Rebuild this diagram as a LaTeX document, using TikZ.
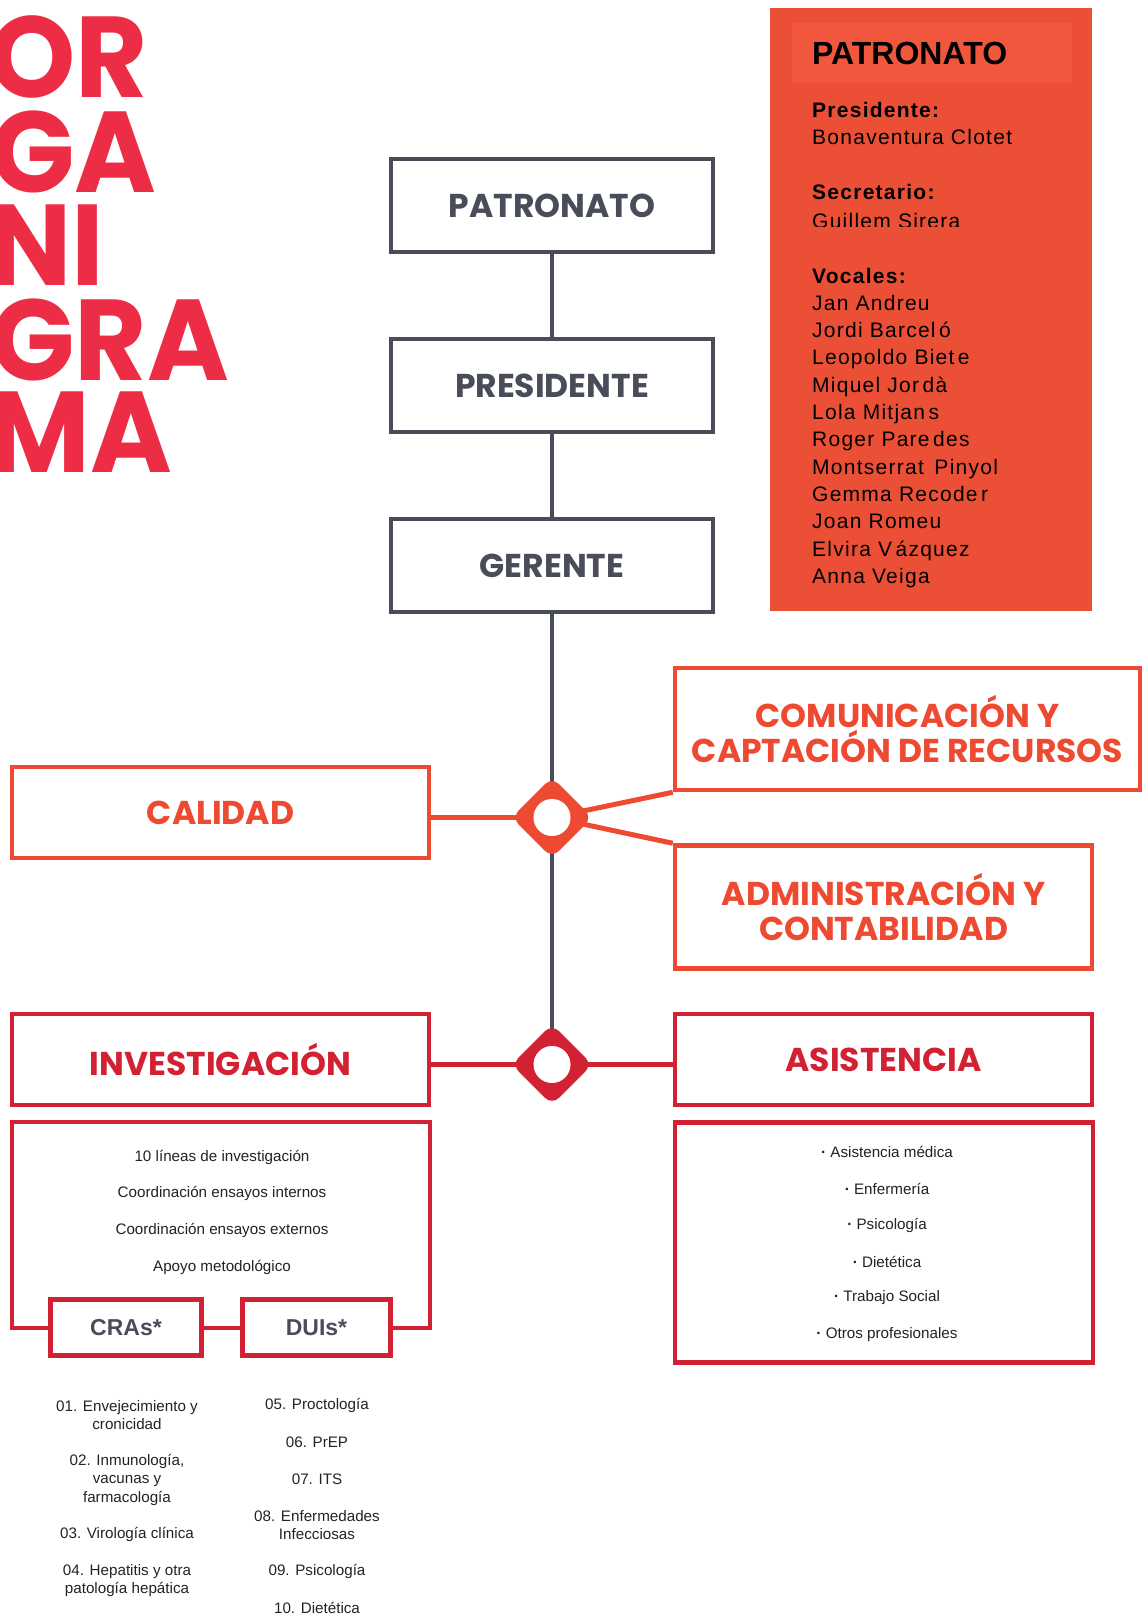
\documentclass[tikz,border=0pt]{standalone}
\usepackage{fontspec}
\setmainfont{Liberation Sans}
\newfontfamily\headfont{Poppins}
\newfontfamily\titlefont{Poppins}[FakeStretch=0.965]
\newfontfamily\spacedfont{Liberation Sans}[LetterSpace=6]
\usetikzlibrary{shapes.geometric}

\definecolor{tred}{RGB}{237,45,69}
\definecolor{ogray}{RGB}{72,77,89}
\definecolor{oorange}{RGB}{238,74,50}
\definecolor{ored}{RGB}{209,33,50}
\definecolor{pfill}{RGB}{235,80,54}
\definecolor{pband}{RGB}{240,87,60}
\definecolor{txt}{RGB}{35,35,35}

\tikzset{
  titletext/.style={anchor=base west, inner sep=0pt, text=tred,
    font=\titlefont\bfseries\fontsize{115}{115}\selectfont},
  graybox/.style={draw=ogray, line width=4.5pt, fill=white, inner sep=0pt,
    minimum width=322pt, minimum height=93pt, text=ogray,
    font=\headfont\bfseries\fontsize{33}{35}\selectfont},
  upbox/.style={draw=oorange, line width=4.5pt, fill=white, inner sep=0pt,
    align=center, text=oorange,
    font=\headfont\bfseries\fontsize{33}{35}\selectfont},
  lowbox/.style={draw=ored, line width=4.5pt, fill=white, inner sep=0pt,
    align=center, text=ored,
    font=\headfont\bfseries\fontsize{33}{35}\selectfont},
  smallbox/.style={lowbox, text=ogray, font=\bfseries\fontsize{23}{23}\selectfont},
  ptext/.style={anchor=base west, inner sep=0pt, text=black,
    font=\spacedfont\fontsize{21}{21}\selectfont},
  info/.style={inner sep=0pt, align=center, text=txt,
    font=\fontsize{15.2}{18.5}\selectfont},
  gline/.style={draw=ogray, line width=4pt},
  oline/.style={draw=oorange, line width=5pt},
  rline/.style={draw=ored, line width=5pt},
  hub/.style={shape=diamond, aspect=1, minimum width=81pt, minimum height=81pt,
    inner sep=0pt, rounded corners=10pt, draw=none},
  hole/.style={shape=circle, fill=white, minimum size=37pt, inner sep=0pt}
}

\begin{document}
\begin{tikzpicture}[x=1pt,y=-1pt]
%\draw[help lines,step=100] (0,0) grid (1144,1619);
\useasboundingbox (0,0) rectangle (1144,1619);

% title
\node[titletext] (t1) at (-12,97) {OR};
\node[titletext] (t2) at (-10,192) {GA};
\node[titletext] (t3) at (-12,285) {NI};
\node[titletext] (t4) at (-10,380) {GRA};
\node[titletext] (t5) at (-12,472) {MA};

% patronato panel
\fill[pfill] (770,8) rectangle (1092,611);
\fill[pband] (792,23) rectangle (1072,83);
\node[ptext, font=\bfseries\fontsize{32}{32}\selectfont] (ptit) at (812,65) {PATRONATO};
\node[ptext, font=\spacedfont\bfseries\fontsize{21}{21}\selectfont] (ppre) at (812,117) {Presidente:};
\node[ptext] (ppre2) at (812,144) {Bonaventura Clotet};
\node[ptext, font=\spacedfont\bfseries\fontsize{21}{21}\selectfont] (psec) at (812,199) {Secretario:};
\begin{scope}
\clip (790,205) rectangle (1080,226.5);
\node[ptext] (psec2) at (812,228.5) {Guillem Sirera};
\end{scope}
\node[ptext, font=\spacedfont\bfseries\fontsize{21}{21}\selectfont] (pvoc) at (812,283) {Vocales:};
\node[ptext] (v1) at (812,310) {Jan Andreu};
\node[ptext] (v2) at (812,337.4) {Jordi Barcel\,ó};
\node[ptext] (v3) at (812,364.7) {Leopoldo Biet\,e};
\node[ptext] (v4) at (812,392.1) {Miquel Jor\,dà};
\node[ptext] (v5) at (812,419.4) {Lola Mitjan\,s};
\node[ptext] (v6) at (812,446.8) {Roger Pare\,des};
\node[ptext] (v7) at (812,474.1) {Montserrat\,\ Pinyol};
\node[ptext] (v8) at (812,501.5) {Gemma Recode\,r};
\node[ptext] (v9) at (812,528.8) {Joan Romeu};
\node[ptext] (v10) at (812,556.2) {Elvira V\,ázquez};
\node[ptext] (v11) at (812,583.5) {Anna Veiga};

% main chain
\node[graybox] (pat) at (552,205.5) {PATRONATO};
\node[graybox] (pres) at (552,385.5) {PRESIDENTE};
\node[graybox] (ger) at (552,565.5) {GERENTE};

\node[upbox, minimum width=417pt, minimum height=91pt] (cal) at (220.5,812.5) {CALIDAD};
\node[upbox, minimum width=465pt, minimum height=122pt] (com) at (907.5,729) {COMUNICACIÓN Y\\CAPTACIÓN DE RECURSOS};
\node[upbox, minimum width=417pt, minimum height=123pt] (adm) at (883.5,907) {ADMINISTRACIÓN Y\\CONTABILIDAD};

\node[lowbox, minimum width=417pt, minimum height=91pt] (inv) at (220.5,1059.5) {INVESTIGACIÓN};
\node[lowbox, minimum width=417pt, minimum height=91pt] (asi) at (883.5,1059.5) {ASISTENCIA};

% detail boxes
\node[lowbox, minimum width=418pt, minimum height=206pt] (invdet) at (221,1225) {};
\node[lowbox, minimum width=418pt, minimum height=240pt] (asidet) at (884,1242.5) {};
\node[smallbox, minimum width=151pt, minimum height=56pt] (cras) at (126,1327.5) {CRAs*};
\node[smallbox, minimum width=148pt, minimum height=56pt] (duis) at (316.5,1327.5) {DUIs*};

\node[info] (i1) at (222,1157) {10 líneas de investigación};
\node[info] (i2) at (222,1193.5) {Coordinación ensayos internos};
\node[info] (i3) at (222,1230) {Coordinación ensayos externos};
\node[info] (i4) at (222,1267) {Apoyo metodológico};

\node[info] (a1) at (887,1152) {{\bfseries·} Asistencia médica};
\node[info] (a2) at (887,1188.5) {{\bfseries·} Enfermería};
\node[info] (a3) at (887,1225) {{\bfseries·} Psicología};
\node[info] (a4) at (887,1261.5) {{\bfseries·} Dietética};
\node[info] (a5) at (887,1298) {{\bfseries·} Trabajo Social};
\node[info] (a6) at (887,1334.5) {{\bfseries·} Otros profesionales};

\node[info] (c1) at (127,1415) {01. Envejecimiento y\\cronicidad};
\node[info] (c2) at (127,1479.5) {02. Inmunología,\\vacunas y\\farmacología};
\node[info] (c3) at (127,1534) {03. Virología clínica};
\node[info] (c4) at (127,1580.5) {04. Hepatitis y otra\\patología hepática};

\node[info] (u1) at (317,1405) {05. Proctología};
\node[info] (u2) at (317,1442) {06. PrEP};
\node[info] (u3) at (317,1479) {07. ITS};
\node[info] (u4) at (317,1525) {08. Enfermedades\\Infecciosas};
\node[info] (u5) at (317,1571) {09. Psicología};
\node[info] (u6) at (317,1608) {10. Dietética};

% connectors
\coordinate (d1) at (552,817.5);
\coordinate (d2) at (552,1064.5);
\draw[gline] (pat.south) -- (pres.north);
\draw[gline] (pres.south) -- (ger.north);
\draw[gline] (ger.south) -- (d1) -- (d2);
\draw[oline] (d1) -- (d1 -| cal.east);
\draw[oline] (d1) -- (com.south west);
\draw[oline] (d1) -- (adm.north west);
\draw[rline] (d2) -- (d2 -| inv.east);
\draw[rline] (d2) -- (d2 -| asi.west);

\node[hub, fill=oorange] (dia1) at (d1) {};
\node[hole] (h1) at (d1) {};
\node[hub, fill=ored] (dia2) at (d2) {};
\node[hole] (h2) at (d2) {};
\end{tikzpicture}
\end{document}
